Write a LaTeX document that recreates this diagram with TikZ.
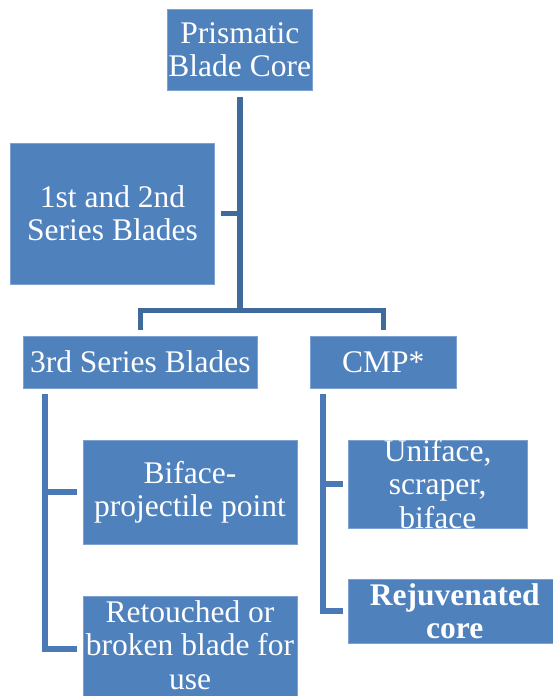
\documentclass[tikz,border=0pt]{standalone}
\usepackage{fontspec}
\setmainfont{Liberation Serif}
\definecolor{boxblue}{HTML}{4F81BD}
\definecolor{boxedge}{HTML}{7DA2D2}
\definecolor{linedark}{HTML}{3F6A9C}
\definecolor{linelight}{HTML}{4A79B5}
\tikzset{
  box/.style={rectangle, fill=boxblue, draw=boxedge, line width=1pt, text=white,
    inner sep=0pt, align=center, font=\fontsize{31.5}{33.3}\selectfont},
  boxtext/.style={text=white, inner sep=0pt, align=center, font=\fontsize{31.5}{33.3}\selectfont},
  conn/.style={draw=linedark, line width=5.5pt},
  subconn/.style={draw=linelight, line width=5.5pt}
}
\begin{document}
\begin{tikzpicture}[x=1pt,y=-1pt]
\useasboundingbox (0,0) rectangle (553,696);
\clip (0,0) rectangle (553,696);
%TOP
  \node (core) at (239.75,50) [box, minimum width=145.5, minimum height=81.4] {Prismatic\\Blade Core};
  \node (first) at (112.5,213.5) [box, minimum width=204, minimum height=141] {1st and 2nd\\Series Blades};
  \coordinate (fork) at (239.75,310.5);
  \draw[conn] ([yshift=-6pt]core.south) -- (fork);
  \draw[conn] ([xshift=6pt]first.east) -- (first.east -| fork);

%SECOND ROW
  \node (third) at (140.3,362) [box, minimum width=233.4, minimum height=52] {3rd Series Blades};
  \node (cmp) at (383.25,362) [box, minimum width=146.5, minimum height=52] {CMP*};
  \draw[conn] ([yshift=6pt]third.north) |- (fork) -| ([yshift=6pt]cmp.north);

%3RD SERIES
  \node (biface) at (190,492) [box, minimum width=214, minimum height=104] {Biface-\\projectile point};
  \node (retouch) at (190,653) [box, minimum width=214, minimum height=114] {};
  \node at (190,645) [boxtext] {Retouched or\\broken blade for\\use};
  \coordinate (ltop) at (45,394);
  \draw[subconn] (ltop) |- ([xshift=-5.5pt]retouch.west |- 0,649);
  \draw[subconn] (ltop |- biface.west) -- ([xshift=-5.5pt]biface.west);

%CMP
  \node (uniface) at (437.75,484) [box, minimum width=178.5, minimum height=88] {};
  \node at (uniface) [boxtext] {Uniface,\\scraper,\\biface};
  \node (rejuv) at (454.7,611) [box, minimum width=212.4, minimum height=64, font=\fontsize{31.5}{33.3}\selectfont\bfseries] {Rejuvenated\\core};
  \coordinate (rtop) at (323,394);
  \draw[subconn] (rtop) |- ([xshift=-5.5pt]rejuv.west);
  \draw[subconn] (rtop |- uniface.west) -- ([xshift=-5.5pt]uniface.west);
\end{tikzpicture}
\end{document}
